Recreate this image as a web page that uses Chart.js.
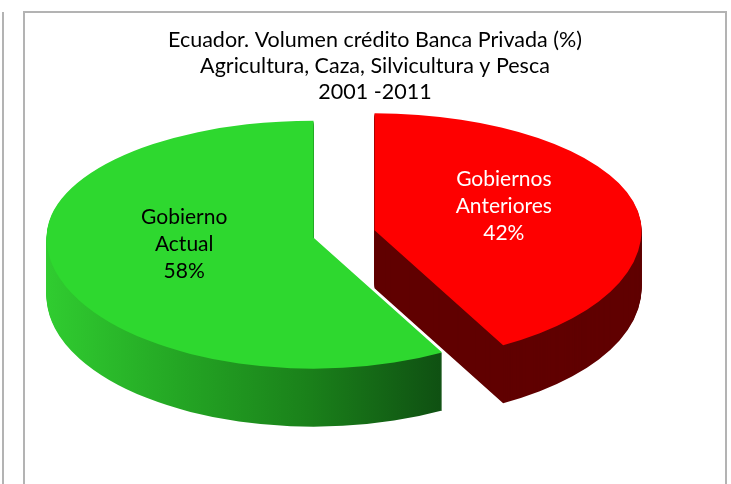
<!DOCTYPE html>
<html lang="es">
<head>
  <meta charset="UTF-8">
  <title>Ecuador. Volumen crédito Banca Privada</title>
  <script src="https://cdn.jsdelivr.net/npm/chart.js"></script>
  <style>
    body {
      margin: 0;
      background: #fff;
      overflow: hidden;
    }
    /* edge of the neighbouring panel */
    .side-line {
      position: absolute;
      left: 2px;
      top: 12px;
      height: 480px;
      border-left: 2px solid #b3b3b3;
    }
    .frame {
      position: absolute;
      left: 23px;
      top: 11px;
      width: 700px;
      height: 490px;
      border: 2px solid #b3b3b3;
    }
    #pie {
      position: absolute;
      left: 25px;
      top: 13px;
    }
  </style>
</head>
<body>
  <div class="side-line"></div>
  <div class="frame"></div>
  <canvas id="pie" width="700" height="471"></canvas>

  <script>
    // chart data
    const titleLines = [
      'Ecuador. Volumen crédito Banca Privada (%)',
      'Agricultura, Caza, Silvicultura y Pesca',
      '2001 -2011'
    ];
    const categories = ['Gobiernos Anteriores', 'Gobierno Actual'];
    const shares = [42, 58];

    // styles
    const topColors = ['#fe0000', '#2ed82f'];
    const wallColors = ['#600000', ['#30cc30', '#24a624', '#1a801a', '#0f5012']];
    const labelColors = ['#ffffff', '#000000'];

    // projection of the flat pie onto a tilted disc (canvas pixels);
    // the near half is drawn a little taller than the far half
    const view = { cx: 319, cy: 221, rx: 267, ryBack: 117, ryFront: 131, depth: 58, explode: 31.5, labelAt: 0.5, labelLift: 10 };

    const pie3d = {
      id: 'pie3d',
      beforeDatasetsDraw(chart) {
        const ctx = chart.ctx;
        const arcs = chart.getDatasetMeta(0).data;
        const labels = [];
        const ryMid = (view.ryBack + view.ryFront) / 2;

        arcs.forEach((arc, i) => {
          const R = arc.outerRadius;
          const sx = view.rx / R;
          const mid = (arc.startAngle + arc.endAngle) / 2;
          const ex = Math.cos(mid) * view.explode;
          const ey = Math.sin(mid) * view.explode * ryMid / view.rx;

          // draw one copy of the slice, lowered by dy, far and near halves separately
          const paint = (el, dy) => {
            const px = view.cx + ex;
            const py = Math.round(view.cy + ey + dy);
            [[view.ryBack, -1e4, py + 1e4], [view.ryFront, py, 1e4]].forEach(([ry, top, h]) => {
              ctx.save();
              ctx.beginPath();
              ctx.rect(-1e4, top, 2e4, h);
              ctx.clip();
              ctx.translate(px, view.cy + ey + dy);
              ctx.scale(sx, ry / R);
              ctx.translate(-arc.x, -arc.y);
              el.draw(ctx);
              ctx.restore();
            });
          };

          // side wall colour, gradient runs across the slice from left to right
          let wall = wallColors[i];
          if (Array.isArray(wall)) {
            let minX = 0, maxX = 0;
            for (let k = 0; k <= 60; k++) {
              const a = arc.startAngle + (arc.endAngle - arc.startAngle) * k / 60;
              minX = Math.min(minX, Math.cos(a) * R);
              maxX = Math.max(maxX, Math.cos(a) * R);
            }
            const g = ctx.createLinearGradient(arc.x + minX, 0, arc.x + maxX, 0);
            wall.forEach((c, k) => g.addColorStop(k / (wall.length - 1), c));
            wall = g;
          }

          const ghost = Object.create(arc);
          ghost.options = Object.assign({}, arc.options, { backgroundColor: wall, borderWidth: 0 });
          for (let d = view.depth; d > 0; d--) {
            paint(ghost, d);
          }
          paint(arc, 0);

          const s = Math.sin(mid);
          labels.push({
            x: view.cx + ex + Math.cos(mid) * view.labelAt * view.rx,
            y: view.cy + ey + s * view.labelAt * (s < 0 ? view.ryBack : view.ryFront) - view.labelLift,
            lines: categories[i].split(' ').concat(shares[i] + '%'),
            color: labelColors[i]
          });
        });

        ctx.save();
        ctx.font = '21px Lato';
        ctx.textAlign = 'center';
        ctx.textBaseline = 'middle';
        labels.forEach(l => {
          ctx.fillStyle = l.color;
          l.lines.forEach((t, k) => {
            ctx.fillText(t, l.x, l.y + (k - (l.lines.length - 1) / 2) * 27);
          });
        });
        ctx.restore();

        return false;
      }
    };

    new Chart(document.getElementById('pie'), {
      type: 'pie',
      data: {
        labels: categories,
        datasets: [{
          data: shares,
          backgroundColor: topColors,
          borderWidth: 0
        }]
      },
      options: {
        responsive: false,
        animation: false,
        events: [],
        plugins: {
          legend: { display: false },
          tooltip: { enabled: false },
          title: {
            display: true,
            text: titleLines,
            color: '#000',
            font: { family: 'Lato', size: 21.5, weight: 'normal', lineHeight: 1.21 },
            padding: { top: 14, bottom: 10 }
          }
        }
      },
      plugins: [pie3d]
    });
  </script>
</body>
</html>
